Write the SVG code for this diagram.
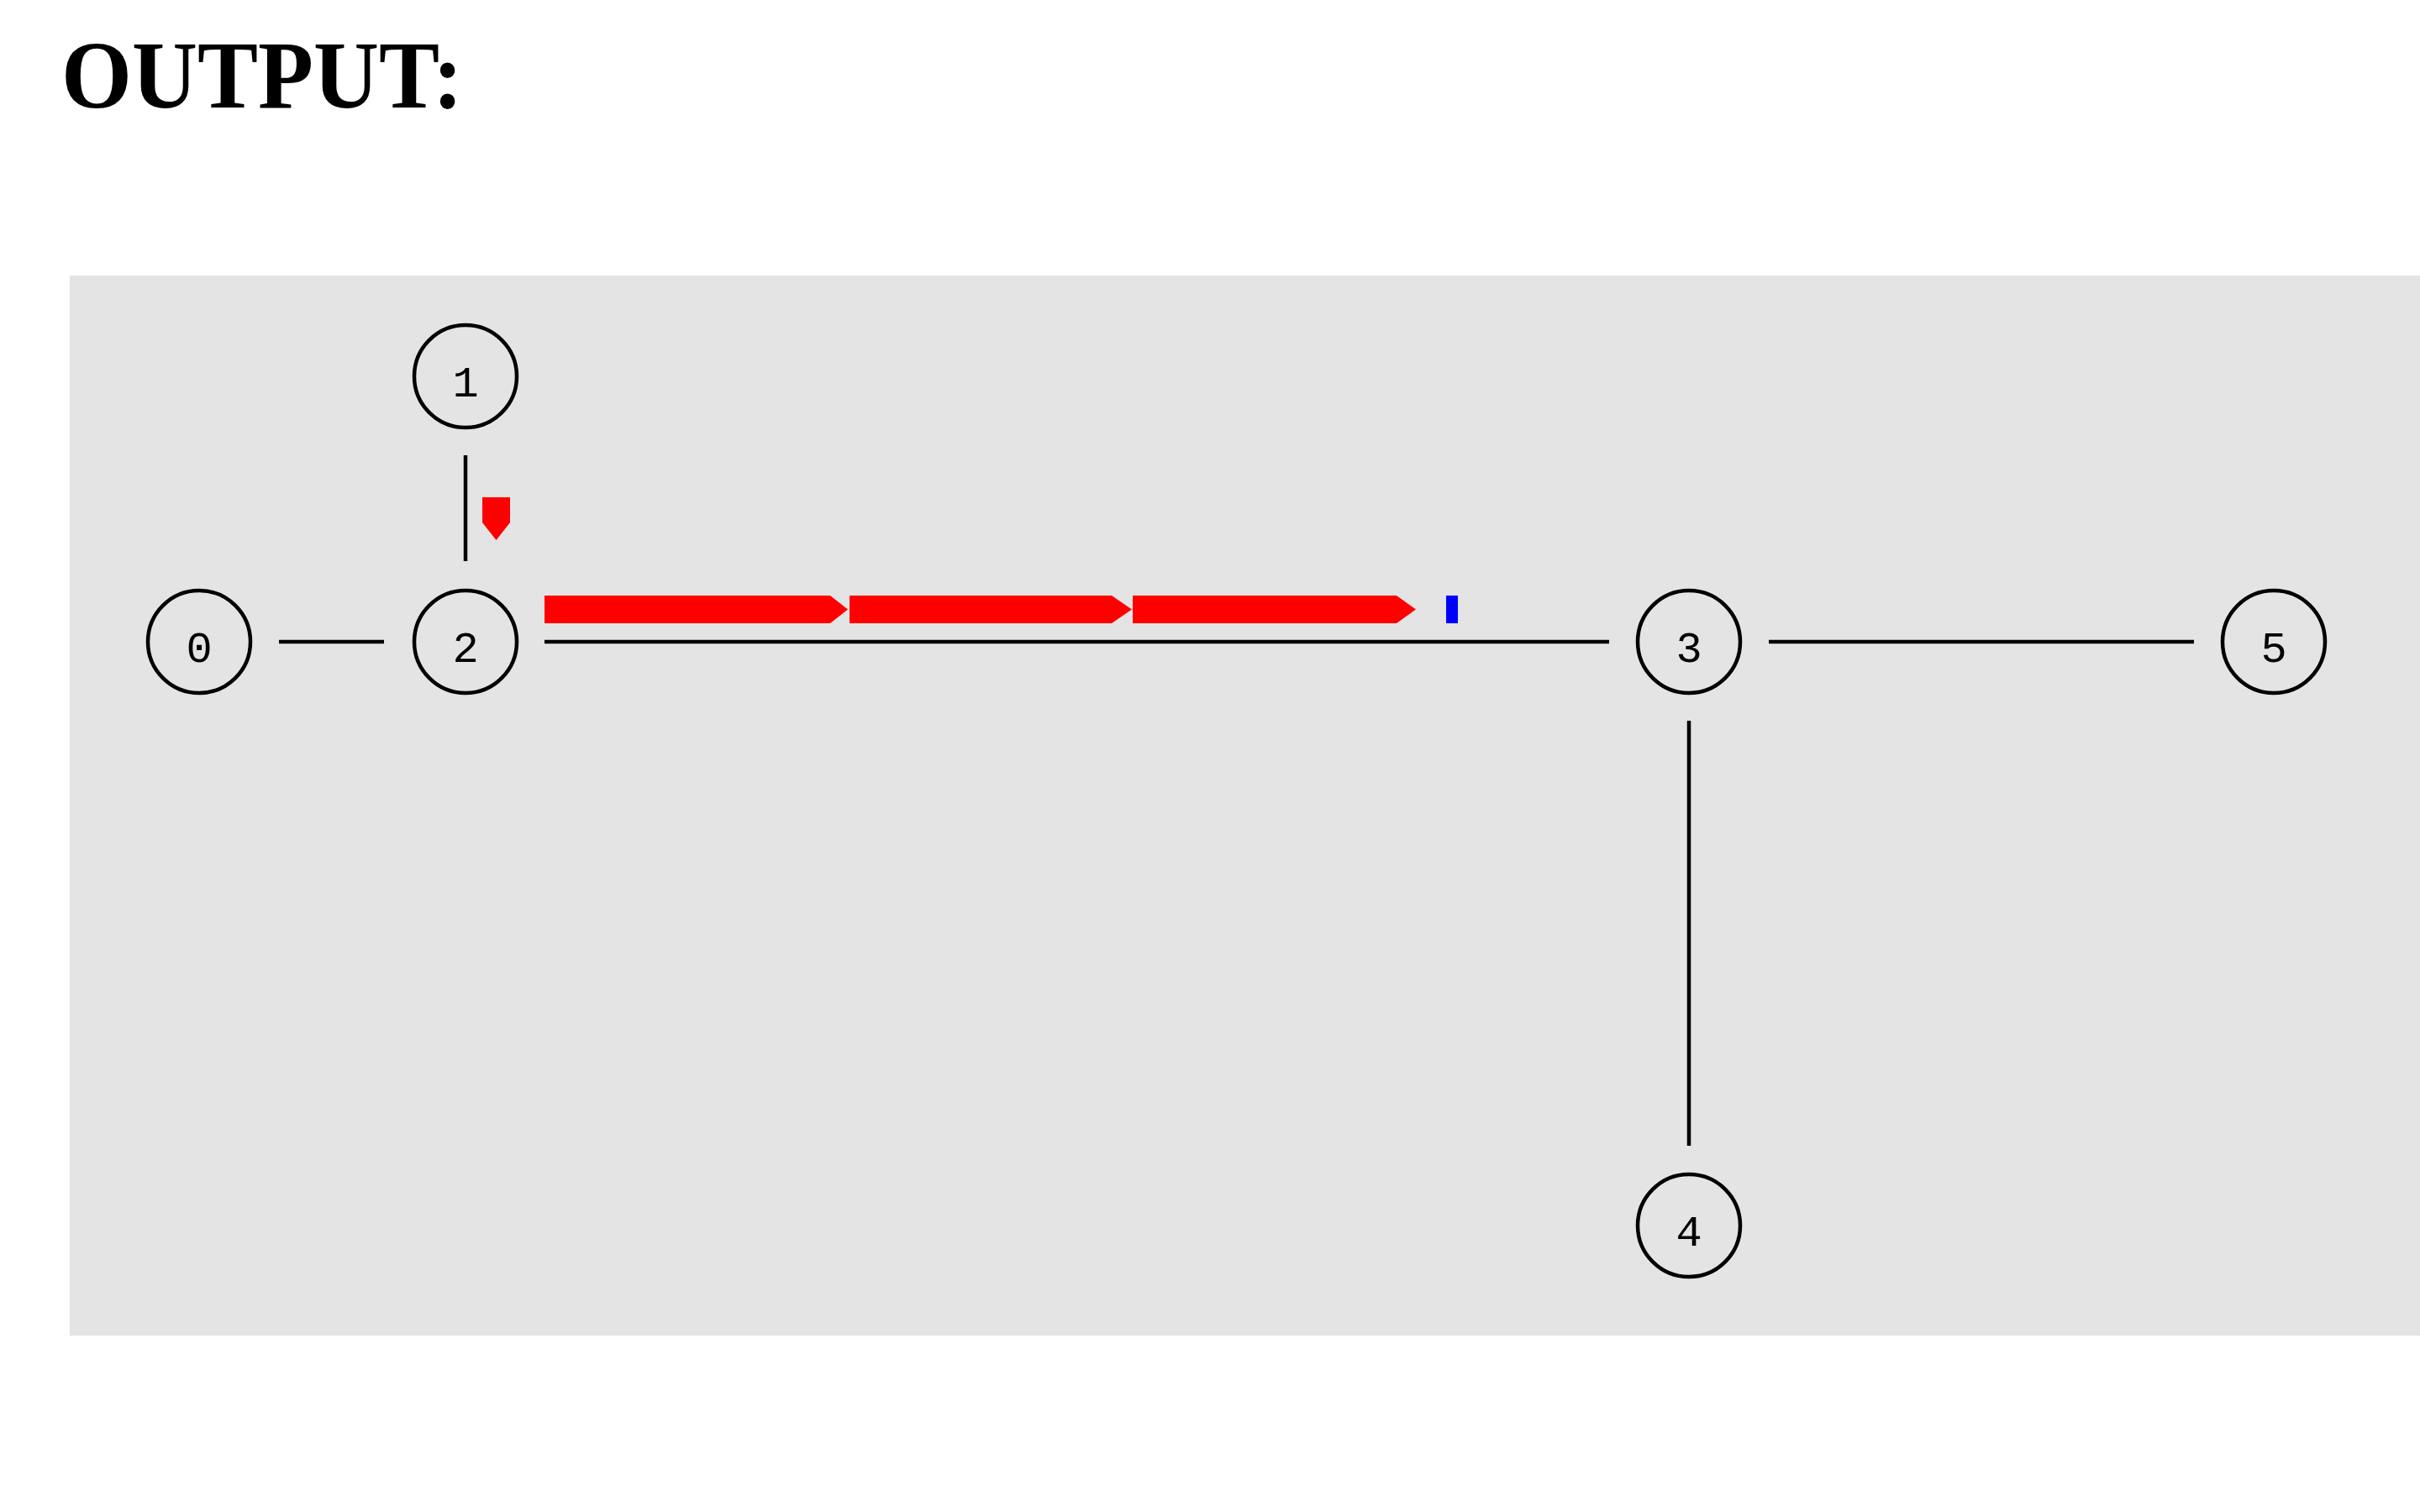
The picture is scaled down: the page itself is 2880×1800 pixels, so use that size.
<svg xmlns="http://www.w3.org/2000/svg" width="2880" height="1800" viewBox="0 0 2880 1800">
<style>
.title{font-family:"Liberation Serif","Times New Roman",serif;font-weight:bold;font-size:114px;fill:#000}
.node circle{fill:none;stroke:#000;stroke-width:4.5}
.node text{font-family:"Liberation Mono","Courier New",monospace;font-size:52px;fill:#000;text-anchor:middle}
.edge{stroke:#000;stroke-width:4.5;fill:none}
.pkt{fill:#ff0000}
.ack{fill:#0000ff}
</style>
<rect x="0" y="0" width="2880" height="1800" fill="#ffffff"/>
<text class="title" x="73" y="128" textLength="478" lengthAdjust="spacingAndGlyphs">OUTPUT:</text>
<rect x="83" y="328" width="2797" height="1262" fill="#e4e4e4"/>
<g id="connectors">
<line class="edge" x1="332" y1="764" x2="457" y2="764"/>
<line class="edge" x1="554" y1="542" x2="554" y2="668"/>
<line class="edge" x1="648" y1="764" x2="1915" y2="764"/>
<line class="edge" x1="2105" y1="764" x2="2611" y2="764"/>
<line class="edge" x1="2010" y1="858" x2="2010" y2="1364"/>
</g>
<g id="packets">
<polygon class="pkt" points="574,592 607,592 607,622 590.5,643 574,622"/>
<polygon class="pkt" points="648,709 988,709 1009,725.5 988,742 648,742"/>
<polygon class="pkt" points="1011,709 1323,709 1347,725.5 1323,742 1011,742"/>
<polygon class="pkt" points="1348,709 1662,709 1685,725.5 1662,742 1348,742"/>
<rect class="ack" x="1721" y="709" width="14" height="33"/>
</g>
<g id="node0" class="node"><circle cx="237" cy="764" r="61"/><text x="237" y="788">0</text></g>
<g id="node1" class="node"><circle cx="554" cy="448" r="61"/><text x="554" y="472">1</text></g>
<g id="node2" class="node"><circle cx="554" cy="764" r="61"/><text x="554" y="788">2</text></g>
<g id="node3" class="node"><circle cx="2010" cy="764" r="61"/><text x="2010" y="788">3</text></g>
<g id="node4" class="node"><circle cx="2010" cy="1459" r="61"/><text x="2010" y="1483">4</text></g>
<g id="node5" class="node"><circle cx="2706" cy="764" r="61"/><text x="2706" y="788">5</text></g>
</svg>
